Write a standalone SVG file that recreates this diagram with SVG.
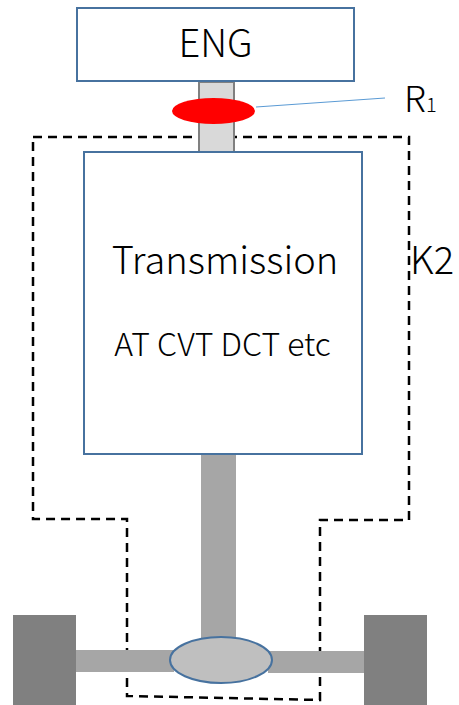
<svg xmlns="http://www.w3.org/2000/svg" width="459" height="705" viewBox="0 0 459 705">
<style>
.box{fill:#ffffff;stroke:#47729f;stroke-width:2}
.lbl{font-family:"Noto Sans CJK JP","Noto Sans",sans-serif;font-weight:300;fill:#000000}
.dash{fill:none;stroke:#000000;stroke-width:2.5;stroke-dasharray:9,6}
.axle{fill:#a6a6a6}
.wheel{fill:#808080}
</style>
<rect width="459" height="705" fill="#ffffff"/>
<g id="connectors">
<path id="K2-boundary" class="dash" d="M33,137 H409 V520 H320 V700 L127,696 V519 H33 Z"/>
<rect id="shaft-upper" x="199" y="82" width="35" height="70" fill="#d9d9d9" stroke="#808080" stroke-width="2"/>
<rect id="shaft-lower" class="axle" x="201" y="452" width="35" height="190"/>
<rect id="axle-left" class="axle" x="74" y="650" width="100" height="22"/>
<rect id="axle-right" class="axle" x="268" y="651" width="96" height="22"/>
<line id="r1-leader" x1="256" y1="107" x2="385" y2="98" stroke="#5b9bd5" stroke-width="1.2"/>
</g>
<g id="eng">
<rect class="box" x="77" y="8" width="277" height="73"/>
<text class="lbl" x="215.5" y="57" font-size="38" text-anchor="middle">ENG</text>
</g>
<g id="r1">
<ellipse cx="213.5" cy="111" rx="41.5" ry="13" fill="#ff0000"/>
<text class="lbl" x="404" y="112" font-size="36">R<tspan font-size="20">1</tspan></text>
</g>
<g id="transmission">
<rect class="box" x="84" y="152" width="278" height="302"/>
<text class="lbl" x="225" y="274" font-size="38" text-anchor="middle">Transmission</text>
<text class="lbl" x="222.5" y="356" font-size="32" text-anchor="middle">AT CVT DCT etc</text>
</g>
<g id="k2">
<text class="lbl" x="410" y="274" font-size="38">K2</text>
</g>
<g id="differential">
<ellipse cx="221" cy="660" rx="51" ry="23" fill="#bfbfbf" stroke="#47729f" stroke-width="2"/>
</g>
<g id="wheel-left"><rect class="wheel" x="13" y="615" width="63" height="90"/></g>
<g id="wheel-right"><rect class="wheel" x="364" y="615" width="63" height="90"/></g>
</svg>
